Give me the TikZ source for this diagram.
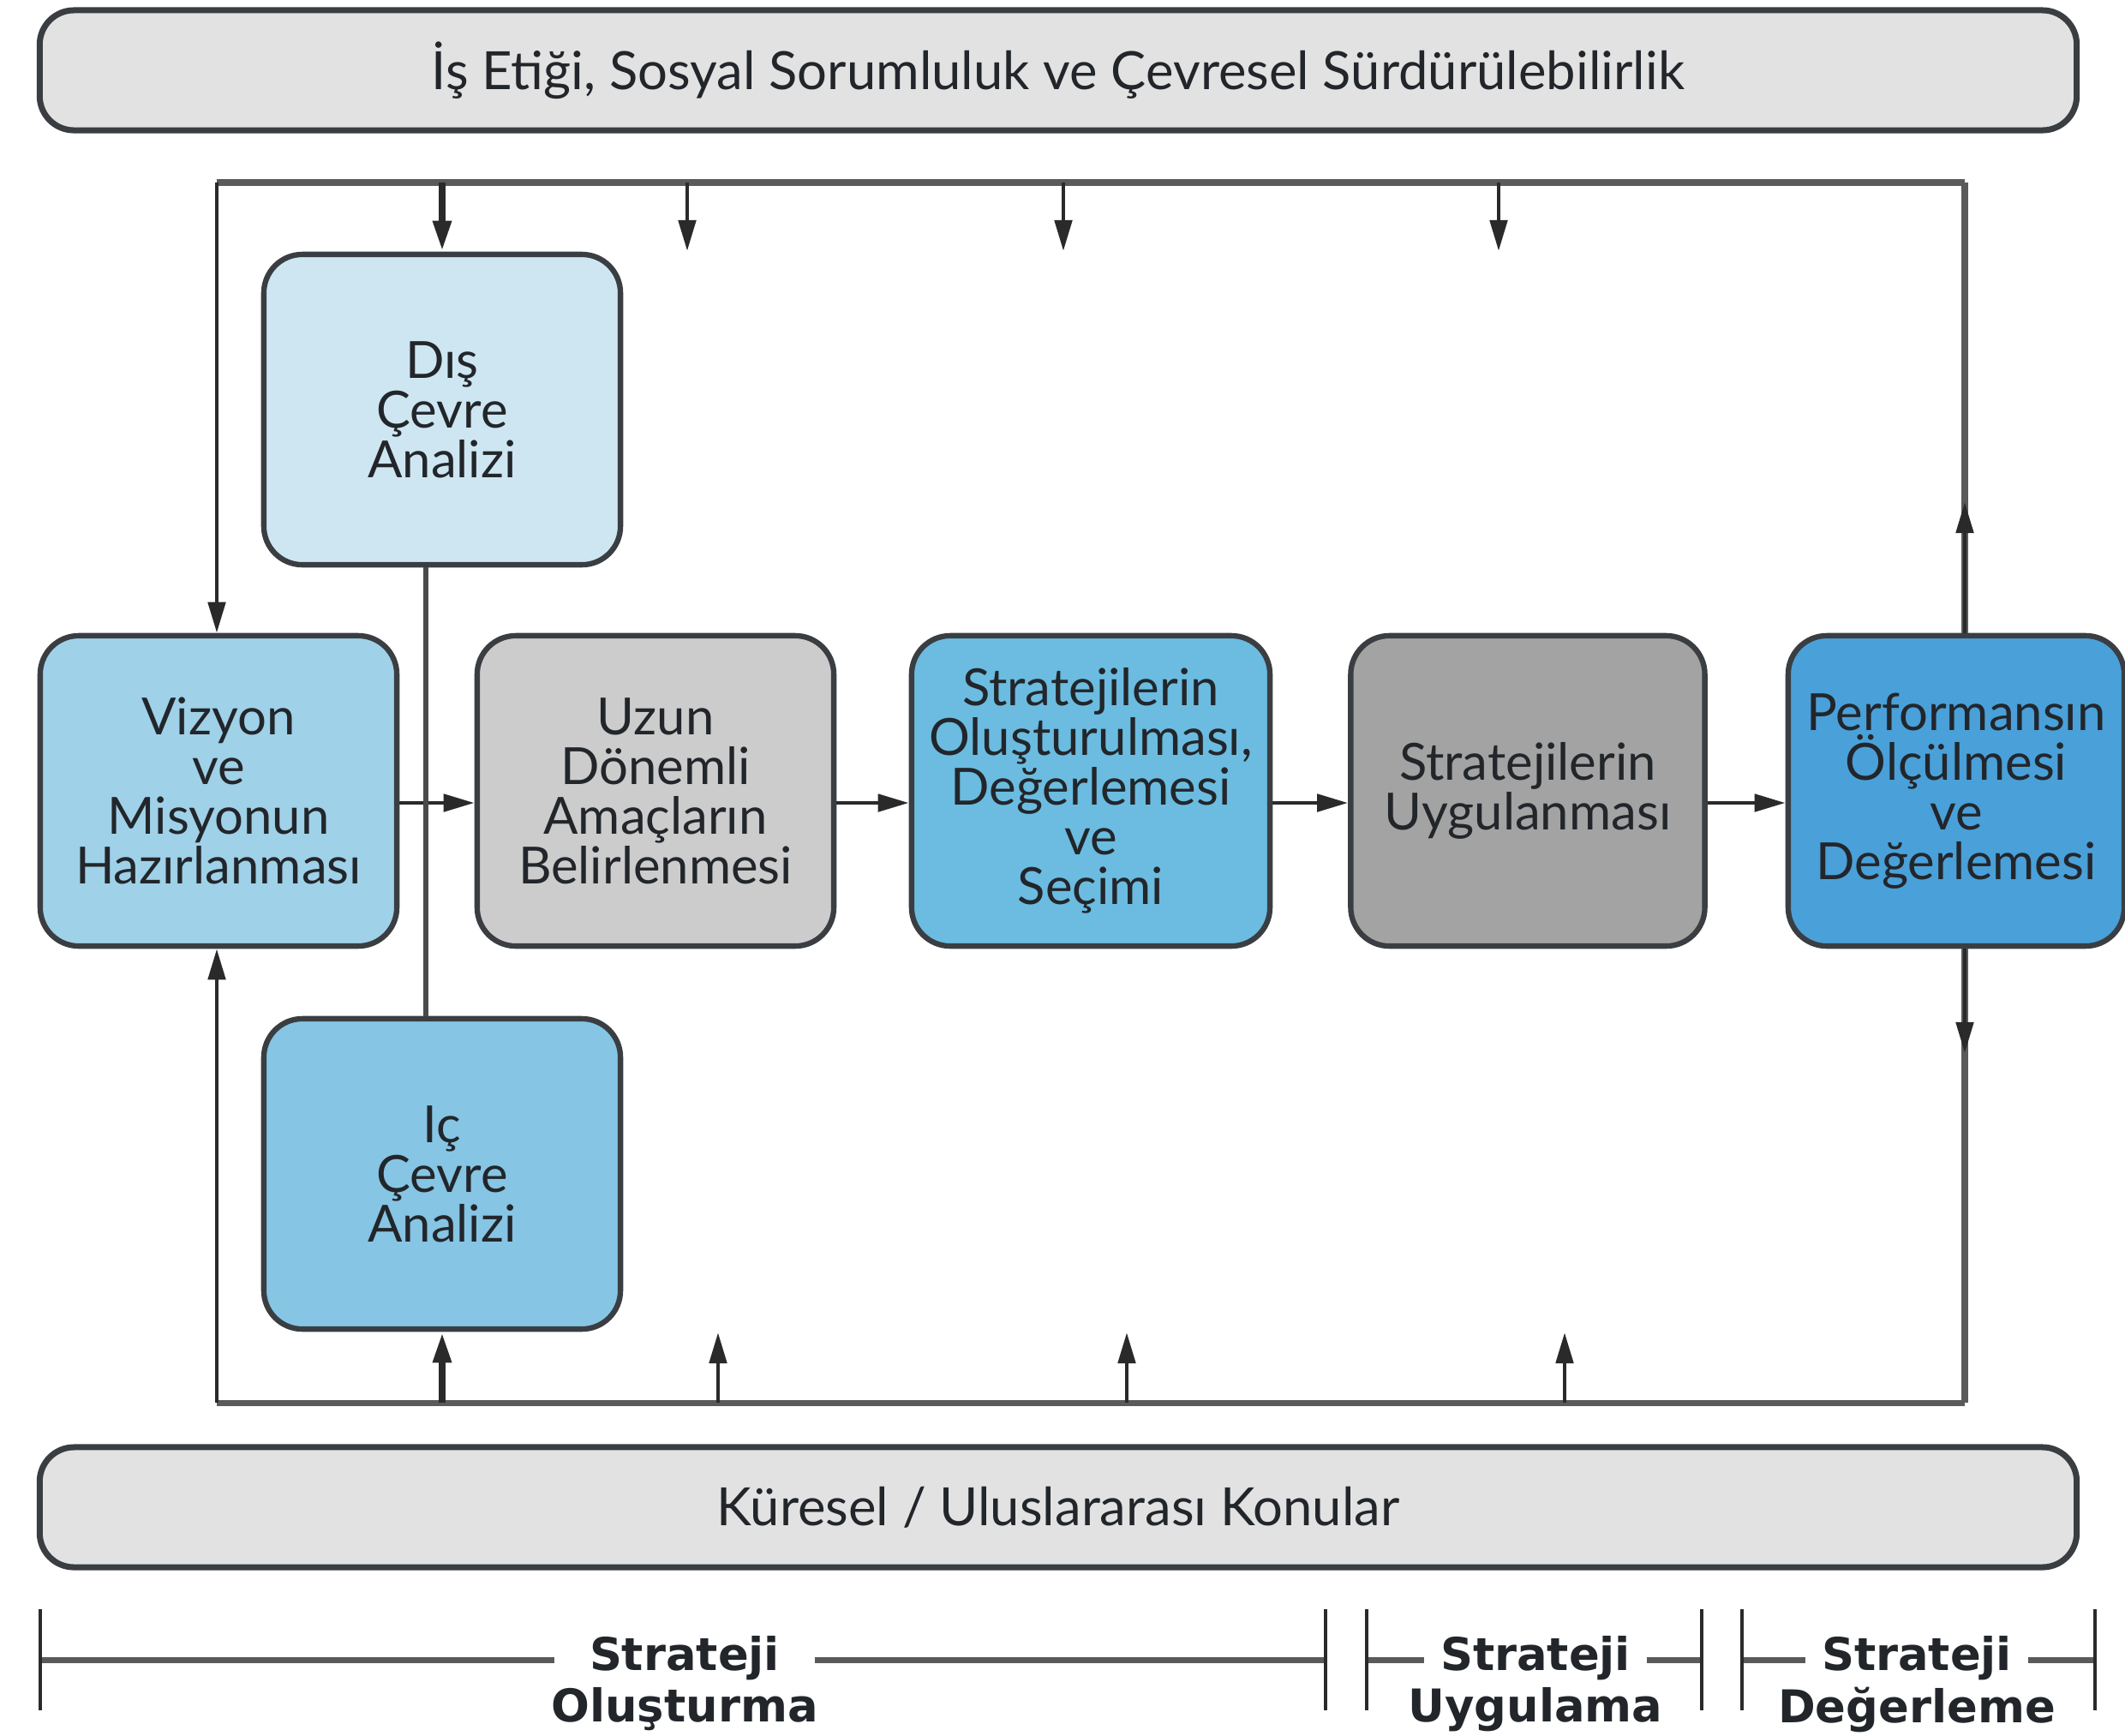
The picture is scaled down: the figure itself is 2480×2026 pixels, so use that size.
\documentclass[tikz,border=0pt]{standalone}
\usepackage{fontspec}
\setmainfont{Lato}
\newfontfamily\brkfont{DejaVu Sans}
\usetikzlibrary{arrows.meta}
\definecolor{bannerfill}{HTML}{E2E2E2}
\definecolor{boxline}{HTML}{3A3E42}
\definecolor{frameclr}{HTML}{5A5A5A}
\definecolor{arrclr}{HTML}{2A2A2A}
\definecolor{txt}{HTML}{22262B}
\definecolor{cDis}{HTML}{CEE6F1}
\definecolor{cViz}{HTML}{9FD1E8}
\definecolor{cUzun}{HTML}{CCCCCC}
\definecolor{cStrat}{HTML}{6BBCE0}
\definecolor{cUyg}{HTML}{A3A3A3}
\definecolor{cPerf}{HTML}{4AA0D9}
\definecolor{cIc}{HTML}{86C5E4}
\begin{document}
\begin{tikzpicture}[x=0.01cm,y=-0.01cm,
  box/.style={draw=boxline, line width=1.8pt, rounded corners=0.45cm,
    minimum width=4.16cm, minimum height=3.62cm, align=center,
    font=\fontsize{17}{16.5}\selectfont, text=txt, inner sep=2pt},
  banner/.style={draw=boxline, fill=bannerfill, line width=2pt, rounded corners=0.4cm,
    minimum width=23.76cm, minimum height=1.4cm, text=txt,
    font=\fontsize{17.5}{20}\selectfont},
  frameline/.style={draw=frameclr, line width=2pt},
  conn/.style={draw=arrclr!85!white, line width=1.5pt},
  arr/.style={draw=arrclr, line width=1.4pt, -{Triangle[length=0.36cm,width=0.2cm]}},
  thickarr/.style={arr, line width=2.4pt},
  brline/.style={draw=frameclr, line width=2pt},
  tickln/.style={draw=arrclr, line width=1.1pt},
  brklbl/.style={font=\brkfont\fontsize{15}{16}\selectfont\bfseries, text=txt, inner ysep=0pt},
]
\useasboundingbox (0,0) rectangle (2480,2026);

% banners
\node[banner] (etik) at (1235,82) {İş Etiği, Sosyal Sorumluluk ve Çevresel Sürdürülebilirlik};
\node[banner] (kuresel) at (1235,1759) {Küresel / Uluslararası Konular};

% frame corners
\coordinate (tl) at (253,213);
\coordinate (tr) at (2293,213);
\coordinate (bl) at (253,1637);
\coordinate (br) at (2293,1637);

% boxes
\node[box, fill=cDis] (dis) at (516,478) {Dış\\Çevre\\Analizi};
\node[box, fill=cViz] (viz) at (255,923) {Vizyon\\ve\\Misyonun\\Hazırlanması};
\node[box, fill=cUzun] (uzun) at (765,923) {Uzun\\Dönemli\\Amaçların\\Belirlenmesi};
\node[box, fill=cStrat, minimum width=4.18cm] (strat) at (1273,923) {Stratejilerin\\Oluşturulması,\\Değerlemesi\\ve\\Seçimi};
\node[box, fill=cUyg, minimum width=4.13cm] (uyg) at (1783,923) {Stratejilerin\\Uygulanması};
\node[box, fill=cPerf, minimum width=3.92cm] (perf) at (2283,923) {Performansın\\Ölçülmesi\\ve\\Değerlemesi};
\node[box, fill=cIc] (ic) at (516,1370) {Iç\\Çevre\\Analizi};

% frame lines
\draw[frameline] (tl) -- (tr);
\draw[frameline] (bl) -- (br);
\draw[arr] (tl) -- (tl |- viz.north);
\draw[arr] (bl) -- (bl |- viz.south);
\draw[thickarr] (dis.north |- tl) -- (dis.north);
\draw[thickarr] (ic.south |- bl) -- (ic.south);

\coordinate (upTip) at (2293,586);
\coordinate (downTip) at (2293,1229);
\draw[frameline] (tr |- perf.north) -- (tr);
\draw[arr] (tr |- perf.north) -- (upTip);
\draw[frameline] (tr |- perf.south) -- (br);
\draw[arr] (tr |- perf.south) -- (downTip);

% free arrows top
\coordinate (a1s) at (802,213);  \coordinate (a1e) at (802,293);
\coordinate (a2s) at (1241,213); \coordinate (a2e) at (1241,293);
\coordinate (a3s) at (1749,213); \coordinate (a3e) at (1749,293);
\draw[arr] (a1s) -- (a1e);
\draw[arr] (a2s) -- (a2e);
\draw[arr] (a3s) -- (a3e);
% free arrows bottom
\coordinate (b1s) at (838,1637);  \coordinate (b1e) at (838,1555);
\coordinate (b2s) at (1315,1637); \coordinate (b2e) at (1315,1555);
\coordinate (b3s) at (1826,1637); \coordinate (b3e) at (1826,1555);
\draw[arr] (b1s) -- (b1e);
\draw[arr] (b2s) -- (b2e);
\draw[arr] (b3s) -- (b3e);

% horizontal flow
\draw[arr] ([yshift=-0.14cm]viz.east) -- ([yshift=-0.14cm]uzun.west);
\draw[arr] ([yshift=-0.14cm]uzun.east) -- ([yshift=-0.14cm]strat.west);
\draw[arr] ([yshift=-0.14cm]strat.east) -- ([yshift=-0.14cm]uyg.west);
\draw[arr] ([yshift=-0.14cm]uyg.east) -- ([yshift=-0.14cm]perf.west);

% dis - ic connector
\draw[conn] ([xshift=-0.19cm]dis.south) -- ([xshift=-0.19cm]ic.north);

% bottom brackets
\node[brklbl, inner xsep=0.4cm] (s1) at (799,1935) {Strateji};
\node[brklbl] (s1b) at (799,1995) {Oluşturma};
\node[brklbl, inner xsep=0.18cm] (s2) at (1792,1935) {Strateji};
\node[brklbl] (s2b) at (1792,1995) {Uygulama};
\node[brklbl, inner xsep=0.18cm] (s3) at (2237,1935) {Strateji};
\node[brklbl] (s3b) at (2237,1995) {Değerleme};

\draw[brline] (47,1937) -- (s1.west |- 0,1937);
\draw[brline] (s1.east |- 0,1937) -- (1547,1937);
\draw[brline] (1595,1937) -- (s2.west |- 0,1937);
\draw[brline] (s2.east |- 0,1937) -- (1986,1937);
\draw[brline] (2033,1937) -- (s3.west |- 0,1937);
\draw[brline] (s3.east |- 0,1937) -- (2445,1937);

\draw[tickln] (47,1878) -- (47,1996);
\draw[tickln] (1547,1878) -- (1547,1996);
\draw[tickln] (1595,1878) -- (1595,1996);
\draw[tickln] (1986,1878) -- (1986,1996);
\draw[tickln] (2033,1878) -- (2033,1996);
\draw[tickln] (2445,1878) -- (2445,1996);
\end{tikzpicture}
\end{document}
